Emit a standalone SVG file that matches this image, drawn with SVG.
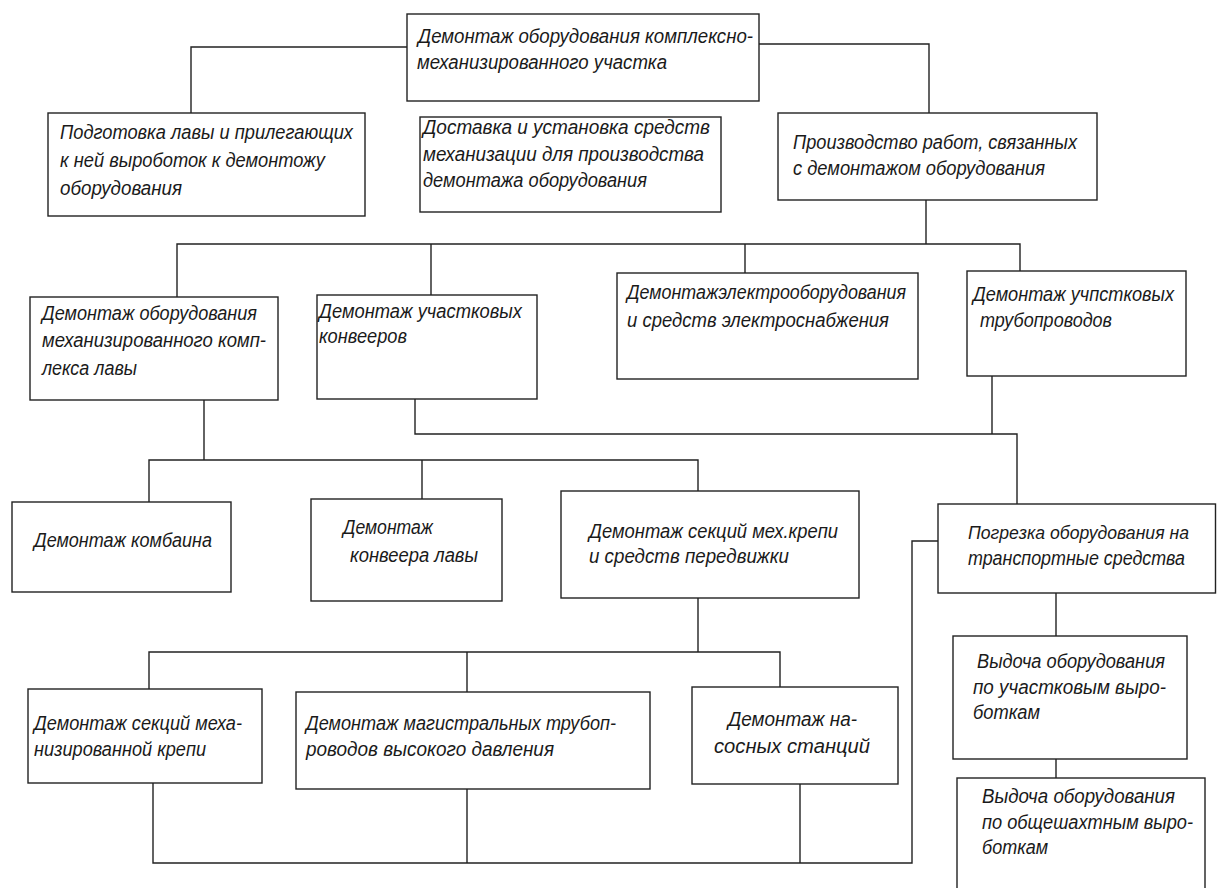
<svg xmlns="http://www.w3.org/2000/svg" width="1217" height="888" viewBox="0 0 1217 888">
<style>
rect{fill:#fff;stroke:#222;stroke-width:1.4}
.c polyline,.c line{fill:none;stroke:#222;stroke-width:1.4}
text{font-family:"Liberation Sans","DejaVu Sans",sans-serif;font-style:italic;font-size:20.5px;fill:#1a1a1a}
</style>
<rect x="0" y="0" width="1217" height="888" style="fill:#fff;stroke:none"/>
<g class="c" id="connectors">
<polyline points="407,47 191,47 191,113"/>
<polyline points="759,44 929,44 929,113"/>
<polyline points="926,200 926,244"/>
<polyline points="177,297 177,244 1020,244 1020,271"/>
<line x1="431" y1="244" x2="431" y2="295"/>
<line x1="745" y1="244" x2="745" y2="273"/>
<polyline points="204,400 204,460"/>
<polyline points="149,502 149,460 698,460 698,491"/>
<line x1="422" y1="460" x2="422" y2="499"/>
<polyline points="415,399 415,434 1017,434 1017,504"/>
<line x1="992" y1="376" x2="992" y2="434"/>
<polyline points="698,598 698,652"/>
<polyline points="149,689 149,652 780,652 780,687"/>
<line x1="467" y1="652" x2="467" y2="692"/>
<polyline points="153,783 153,863 912,863 912,541 938,541"/>
<line x1="467" y1="789" x2="467" y2="863"/>
<line x1="800" y1="784" x2="800" y2="863"/>
<line x1="1056" y1="593" x2="1056" y2="636"/>
<line x1="1056" y1="759" x2="1056" y2="778"/>
</g>
<g id="n-root"><rect x="407" y="14" width="352" height="87"/>
<text x="418" y="43" textLength="335" lengthAdjust="spacingAndGlyphs">Демонтаж оборудования комплексно-</text>
<text x="417" y="69" textLength="250" lengthAdjust="spacingAndGlyphs">механизированного участка</text></g>
<g id="n-prep"><rect x="48" y="113" width="317" height="103"/>
<text x="60" y="139" textLength="293" lengthAdjust="spacingAndGlyphs">Подготовка лавы и прилегающих</text>
<text x="60" y="167" textLength="265" lengthAdjust="spacingAndGlyphs">к ней выроботок к демонтожу</text>
<text x="60" y="195" textLength="122" lengthAdjust="spacingAndGlyphs">оборудования</text></g>
<g id="n-deliv"><rect x="420" y="117" width="301" height="95"/>
<text x="423" y="134" textLength="287" lengthAdjust="spacingAndGlyphs">Доставка и установка средств</text>
<text x="423" y="161" textLength="281" lengthAdjust="spacingAndGlyphs">механизации для производства</text>
<text x="423" y="187" textLength="224" lengthAdjust="spacingAndGlyphs">демонтажа оборудования</text></g>
<g id="n-work"><rect x="778" y="113" width="319" height="87"/>
<text x="793" y="149" textLength="284" lengthAdjust="spacingAndGlyphs">Производство работ, связанных</text>
<text x="793" y="175" textLength="252" lengthAdjust="spacingAndGlyphs">с демонтажом оборудования</text></g>
<g id="n-complex"><rect x="30" y="297" width="248" height="103"/>
<text x="42" y="320" textLength="215" lengthAdjust="spacingAndGlyphs">Демонтаж оборудования</text>
<text x="42" y="347" textLength="224" lengthAdjust="spacingAndGlyphs">механизированного комп-</text>
<text x="42" y="375" textLength="95" lengthAdjust="spacingAndGlyphs">лекса лавы</text></g>
<g id="n-conv"><rect x="317" y="295" width="220" height="104"/>
<text x="319" y="318" textLength="203" lengthAdjust="spacingAndGlyphs">Демонтаж участковых</text>
<text x="319" y="343" textLength="88" lengthAdjust="spacingAndGlyphs">конвееров</text></g>
<g id="n-elec"><rect x="617" y="273" width="301" height="106"/>
<text x="627" y="299" textLength="279" lengthAdjust="spacingAndGlyphs">Демонтажэлектрооборудования</text>
<text x="627" y="327" textLength="262" lengthAdjust="spacingAndGlyphs">и средств электроснабжения</text></g>
<g id="n-pipe"><rect x="967" y="271" width="219" height="105"/>
<text x="973" y="301" textLength="201" lengthAdjust="spacingAndGlyphs">Демонтаж учпстковых</text>
<text x="980" y="327" textLength="132" lengthAdjust="spacingAndGlyphs">трубопроводов</text></g>
<g id="n-comb"><rect x="12" y="502" width="219" height="90"/>
<text x="34" y="547" textLength="178" lengthAdjust="spacingAndGlyphs">Демонтаж комбаина</text></g>
<g id="n-lava"><rect x="311" y="499" width="191" height="102"/>
<text x="343" y="534" textLength="90" lengthAdjust="spacingAndGlyphs">Демонтаж</text>
<text x="350" y="562" textLength="128" lengthAdjust="spacingAndGlyphs">конвеера лавы</text></g>
<g id="n-sect"><rect x="561" y="491" width="298" height="107"/>
<text x="589" y="538" textLength="249" lengthAdjust="spacingAndGlyphs">Демонтаж секций мех.крепи</text>
<text x="589" y="563" textLength="200" lengthAdjust="spacingAndGlyphs">и средств передвижки</text></g>
<g id="n-load"><rect x="938" y="504" width="277.5" height="89"/>
<text x="968" y="539" textLength="221" lengthAdjust="spacingAndGlyphs" style="font-size:18.5px">Погрезка оборудования на</text>
<text x="968" y="565" textLength="217" lengthAdjust="spacingAndGlyphs">транспортные средства</text></g>
<g id="n-sec2"><rect x="28" y="689" width="234" height="94"/>
<text x="34" y="730" textLength="208" lengthAdjust="spacingAndGlyphs">Демонтаж секций меха-</text>
<text x="34" y="756" textLength="172" lengthAdjust="spacingAndGlyphs">низированной крепи</text></g>
<g id="n-main"><rect x="296" y="692" width="354" height="97"/>
<text x="306" y="730" textLength="310" lengthAdjust="spacingAndGlyphs">Демонтаж магистральных трубоп-</text>
<text x="306" y="756" textLength="248" lengthAdjust="spacingAndGlyphs">роводов высокого давления</text></g>
<g id="n-pump"><rect x="692" y="687" width="206" height="97"/>
<text x="728" y="726" textLength="129" lengthAdjust="spacingAndGlyphs">Демонтаж на-</text>
<text x="714" y="753" textLength="156" lengthAdjust="spacingAndGlyphs">сосных станций</text></g>
<g id="n-out1"><rect x="953" y="636" width="234" height="123"/>
<text x="977" y="668" textLength="188" lengthAdjust="spacingAndGlyphs">Выдоча оборудования</text>
<text x="973" y="694" textLength="193" lengthAdjust="spacingAndGlyphs">по участковым выро-</text>
<text x="973" y="719" textLength="67" lengthAdjust="spacingAndGlyphs">боткам</text></g>
<g id="n-out2"><rect x="957" y="778" width="248" height="130"/>
<text x="982" y="803" textLength="193" lengthAdjust="spacingAndGlyphs">Выдоча оборудования</text>
<text x="982" y="829" textLength="211" lengthAdjust="spacingAndGlyphs">по общешахтным выро-</text>
<text x="982" y="854" textLength="66" lengthAdjust="spacingAndGlyphs">боткам</text></g>
</svg>
